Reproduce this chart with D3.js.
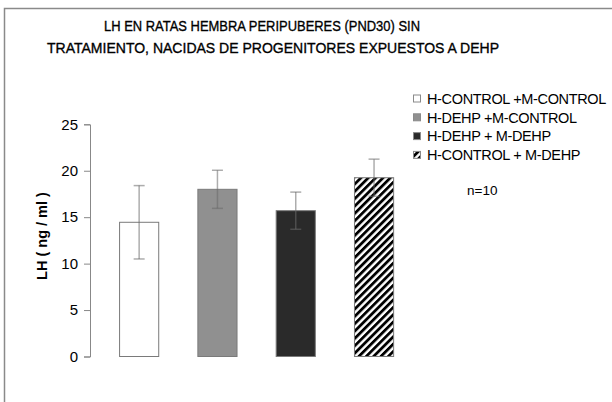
<!DOCTYPE html>
<html>
<head>
<meta charset="utf-8">
<script src="https://cdn.jsdelivr.net/npm/d3@7"></script>
<style>
  body { margin: 0; background: #fff; }
  text { font-family: "Liberation Sans", Arial, sans-serif; }
</style>
</head>
<body>
<div id="chart"></div>
<script>
// datos
const grupos = ["H-CONTROL +M-CONTROL", "H-DEHP +M-CONTROL", "H-DEHP + M-DEHP", "H-CONTROL + M-DEHP"];
const medias = [14.45, 18.0, 15.7, 19.25];
const errores = [3.95, 2.05, 2.0, 2.0];
const yTicks = [0, 5, 10, 15, 20, 25];
const titulo = ["LH EN RATAS HEMBRA PERIPUBERES (PND30) SIN", "TRATAMIENTO, NACIDAS DE PROGENITORES EXPUESTOS A DEHP"];
const yLabel = "LH ( ng / ml )";
const nota = "n=10";

const width = 612, height = 402;
const fills = ["#ffffff", "#909090", "#2a2a2a", "url(#rayas)"];

const svg = d3.select("#chart").append("svg")
    .attr("width", width)
    .attr("height", height);

// patron de rayas
const defs = svg.append("defs");
const pat = defs.append("pattern")
    .attr("id", "rayas")
    .attr("patternUnits", "userSpaceOnUse")
    .attr("width", 5.2)
    .attr("height", 10)
    .attr("patternTransform", "rotate(45)");
pat.append("rect").attr("width", 5.2).attr("height", 10).attr("fill", "#fff");
pat.append("rect").attr("width", 2.8).attr("height", 10).attr("fill", "#000");

// marco
svg.append("rect")
    .attr("x", 4.5).attr("y", 8.5)
    .attr("width", 640).attr("height", 420)
    .attr("fill", "none")
    .attr("stroke", "#8a8a8a")
    .attr("stroke-width", 1.5);

// titulo
svg.append("text").attr("x", 262).attr("y", 31)
    .attr("text-anchor", "middle").attr("font-size", 15.5)
    .attr("stroke", "#000").attr("stroke-width", 0.35)
    .attr("textLength", 316).attr("lengthAdjust", "spacingAndGlyphs")
    .text(titulo[0]);
svg.append("text").attr("x", 273).attr("y", 52.5)
    .attr("text-anchor", "middle").attr("font-size", 15.5)
    .attr("stroke", "#000").attr("stroke-width", 0.35)
    .attr("textLength", 452).attr("lengthAdjust", "spacingAndGlyphs")
    .text(titulo[1]);

const x = d3.scaleBand()
    .domain(grupos)
    .range([100, 413.2])
    .paddingInner(0.5)
    .paddingOuter(0.25);

const y = d3.scaleLinear()
    .domain([0, 25])
    .range([356.5, 124.3]);

// eje y
const ejeY = svg.append("g")
    .attr("transform", "translate(90,0)")
    .call(d3.axisLeft(y).tickValues(yTicks).tickSize(6).tickPadding(6));
ejeY.select(".domain").attr("stroke", "#888").attr("stroke-width", 1);
ejeY.selectAll(".tick line").attr("stroke", "#888");
ejeY.selectAll(".tick text")
    .attr("font-size", 15)
    .attr("font-family", "Liberation Sans, Arial, sans-serif")
    .attr("fill", "#000");

svg.append("text")
    .attr("transform", "translate(46.5,236) rotate(-90)")
    .attr("text-anchor", "middle")
    .attr("font-size", 14.5)
    .attr("font-weight", "bold")
    .text(yLabel);

// barras
svg.append("g").selectAll("rect")
    .data(medias)
    .enter().append("rect")
    .attr("x", (d, i) => x(grupos[i]))
    .attr("y", d => y(d))
    .attr("width", x.bandwidth())
    .attr("height", d => y(0) - y(d))
    .attr("fill", (d, i) => fills[i])
    .attr("stroke", "#7a7a7a")
    .attr("stroke-width", 1);

// barras de error
const err = svg.append("g")
    .attr("stroke", "#6a6a6a")
    .attr("stroke-opacity", 0.55)
    .attr("stroke-width", 1.5);
medias.forEach((m, i) => {
  const cx = x(grupos[i]) + x.bandwidth() / 2;
  err.append("line").attr("x1", cx).attr("x2", cx)
      .attr("y1", y(m + errores[i])).attr("y2", y(m - errores[i]));
  [m + errores[i], m - errores[i]].forEach(v => {
    err.append("line").attr("x1", cx - 5.5).attr("x2", cx + 5.5)
        .attr("y1", y(v)).attr("y2", y(v));
  });
});

// leyenda
const legend = svg.append("g")
    .selectAll("g")
    .data(grupos)
    .enter().append("g")
    .attr("transform", (d, i) => "translate(413," + (98.5 + i * 18.8) + ")");

legend.append("rect")
    .attr("x", 0.5).attr("y", -3.5)
    .attr("width", 7).attr("height", 7)
    .attr("fill", (d, i) => fills[i])
    .attr("stroke", "#8a8a8a")
    .attr("stroke-width", 1);

legend.append("text")
    .attr("x", 14)
    .attr("dy", "0.36em")
    .attr("font-size", 14.5)
    .attr("letter-spacing", -0.35)
    .text(d => d);

svg.append("text")
    .attr("x", 467).attr("y", 194.5)
    .attr("font-size", 13.5)
    .text(nota);
</script>
</body>
</html>
